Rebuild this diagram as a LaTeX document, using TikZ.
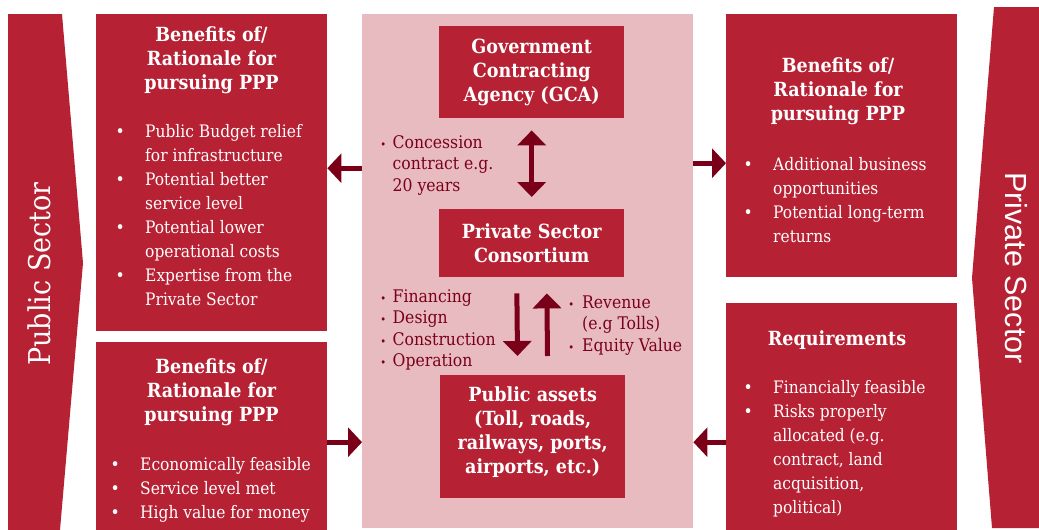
\documentclass[tikz,border=0pt]{standalone}
\usepackage{fontspec}
\setmainfont{DejaVu Serif Condensed}
\newfontfamily\sectorsans{Liberation Sans}
\usetikzlibrary{calc,positioning,arrows.meta}
\definecolor{pppred}{HTML}{B72134}
\definecolor{ppppink}{HTML}{E8BBC1}
\definecolor{pppdark}{HTML}{7A0019}
\tikzset{
  redbox/.style={fill=pppred, anchor=north west, inner sep=0pt},
  headtxt/.style={text=white, font=\fontsize{19.5}{24}\selectfont\bfseries, align=center, inner sep=0pt},
  listtxt/.style={text=white, font=\fontsize{17.2}{24}\selectfont, inner sep=0pt, anchor=north west},
  darktxt/.style={text=pppdark, font=\fontsize{17.4}{21.5}\selectfont, inner sep=0pt, anchor=north west},
  bigarrow/.style={draw=pppdark, line width=5pt, -{Triangle[length=14pt,width=29pt]}},
  dblarrow/.style={draw=pppdark, line width=5pt, {Triangle[length=15pt,width=28pt]}-{Triangle[length=15pt,width=28pt]}},
  uparrow/.style={draw=pppdark, line width=5pt, -{Triangle[length=15pt,width=28pt]}}
}
\newcommand{\wbul}{\makebox[0pt]{\textbullet}}
\newcommand{\dbul}{\makebox[0pt]{\fontsize{11}{11}\selectfont\textbullet}}

\begin{document}
\begin{tikzpicture}[x=1pt,y=-1pt]
  \useasboundingbox (0,0) rectangle (1039,530);
  % side banners
  \fill[pppred] (8,14) -- (62,14) -- (83,263) -- (60,530) -- (8,530) -- cycle;
  \fill[pppred] (994,7) -- (1039,7) -- (1039,528) -- (992,528) -- (972,278) -- cycle;
  \node[rotate=90, text=white, font=\fontsize{30}{30}\selectfont, inner sep=0pt] (pubsec) at (39,274) {Public Sector};
  \node[rotate=-90, text=white, font=\sectorsans\fontsize{30.5}{30.5}\selectfont, inner sep=0pt] (privsec) at (1016,268) {Private Sector};
  % boxes
  \node[redbox, minimum width=231pt, minimum height=317pt] (tlbox) at (96,14) {};
  \node[redbox, minimum width=231pt, minimum height=188pt] (blbox) at (96,342) {};
  \node[redbox, minimum width=231pt, minimum height=263pt] (trbox) at (726,14) {};
  \node[redbox, minimum width=231pt, minimum height=227pt] (brbox) at (726,303) {};
  \node[fill=ppppink, anchor=north west, inner sep=0pt, minimum width=331pt, minimum height=514pt] (pink) at (362,14) {};
  \node[redbox, headtxt, minimum width=185pt, minimum height=92pt] (gca) at (439,26) {Government\\Contracting\\Agency (GCA)};
  \node[redbox, headtxt, minimum width=185pt, minimum height=68pt] (psc) at (439,209) {Private Sector\\Consortium};
  \node[redbox, minimum width=185pt, minimum height=123pt] (assets) at (440,375) {};
  \node[headtxt] (assetstxt) at ($(assets.center)+(0,-5)$) {Public assets\\(Toll, roads,\\railways, ports,\\airports, etc.)};
  % headings
  \node[headtxt] (tlhead) at (211.5,60) {Benefits of/\\Rationale for\\pursuing PPP};
  \node[headtxt] (blhead) at (211.5,392.5) {Benefits of/\\Rationale for\\pursuing PPP};
  \node[headtxt] (trhead) at (838,91.5) {Benefits of/\\Rationale for\\pursuing PPP};
  \node[headtxt] (brhead) at (837,340) {Requirements};
  % lists
  \node[listtxt] (tllist) at (120,120) {\begin{tabular}{@{}l@{\hspace{25pt}}l@{}}
    \wbul & Public Budget relief\\ & for infrastructure\\
    \wbul & Potential better\\ & service level\\
    \wbul & Potential lower\\ & operational costs\\
    \wbul & Expertise from the\\ & Private Sector\end{tabular}};
  \node[listtxt] (trlist) at (748,153) {\begin{tabular}{@{}l@{\hspace{25pt}}l@{}}
    \wbul & Additional business\\ & opportunities\\
    \wbul & Potential long-term\\ & returns\end{tabular}};
  \node[listtxt] (bllist) at (115,453) {\begin{tabular}{@{}l@{\hspace{25pt}}l@{}}
    \wbul & Economically feasible\\
    \wbul & Service level met\\
    \wbul & High value for money\end{tabular}};
  \node[listtxt] (brlist) at (748,376) {\begin{tabular}{@{}l@{\hspace{25pt}}l@{}}
    \wbul & Financially feasible\\
    \wbul & Risks properly\\ & allocated (e.g.\\ & contract, land\\ & acquisition,\\ & political)\end{tabular}};
  % notes on the pink panel
  \node[darktxt] (contract) at (383,133) {\begin{tabular}{@{}l@{\hspace{9.5pt}}l@{}}
    \dbul & Concession\\ & contract e.g.\\ & 20 years\end{tabular}};
  \node[darktxt] (tasks) at (383,287) {\begin{tabular}{@{}l@{\hspace{9.5pt}}l@{}}
    \dbul & Financing\\ \dbul & Design\\ \dbul & Construction\\ \dbul & Operation\end{tabular}};
  \node[darktxt] (returns) at (571,293) {\begin{tabular}{@{}l@{\hspace{11pt}}l@{}}
    \dbul & Revenue\\ & (e.g Tolls)\\ \dbul & Equity Value\end{tabular}};
  % arrows
  \draw[bigarrow] ($(pink.west |- tlbox.east)+(0,-4.5)$) -- ($(tlbox.east)+(0,-4.5)$);
  \draw[bigarrow] ($(pink.east |- trbox.west)+(0,17.5)$) -- ($(trbox.west)+(0,17.5)$);
  \draw[bigarrow] ($(blbox.east)+(0,6)$) -- ($(pink.west |- blbox.east)+(0,6)$);
  \draw[bigarrow] ($(brbox.west)+(0,25.5)$) -- ($(pink.east |- brbox.west)+(0,25.5)$);
  \draw[dblarrow, shorten <=12pt, shorten >=12pt] (gca.south) -- (psc.north);
  \draw[uparrow, shorten <=16pt, shorten >=19pt] ($(psc.south)+(-15,0)$) -- ($(assets.north)+(-15,0)$);
  \draw[uparrow, shorten <=19pt, shorten >=16pt] ($(assets.north)+(15,0)$) -- ($(psc.south)+(15,0)$);
\end{tikzpicture}
\end{document}
